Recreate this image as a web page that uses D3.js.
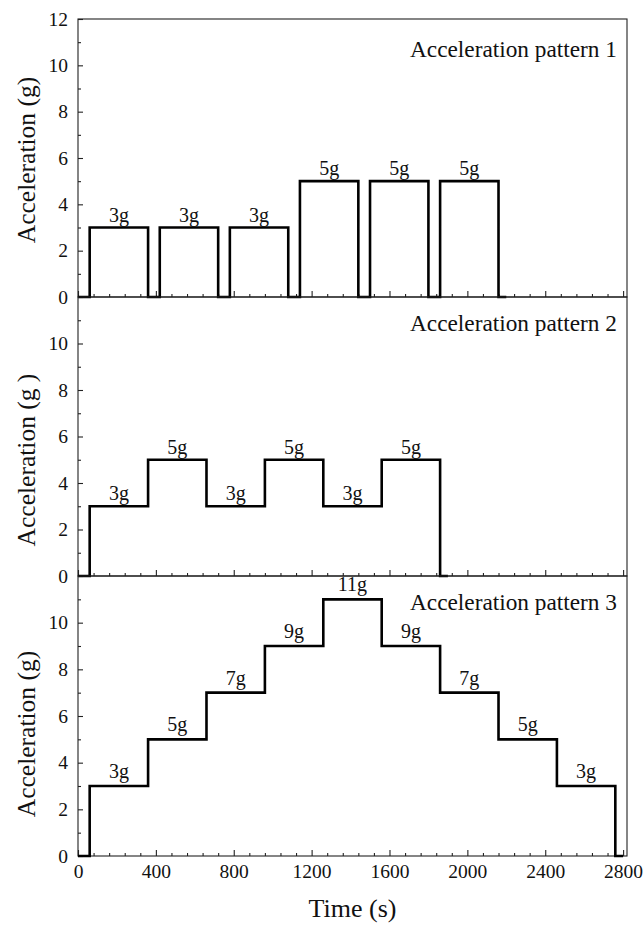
<!DOCTYPE html>
<html>
<head>
<meta charset="utf-8">
<script src="https://cdn.jsdelivr.net/npm/d3@7"></script>
<style>
  html, body { margin: 0; padding: 0; background: #fff; }
  svg { display: block; }
  svg text { font-family: "Liberation Serif", "Times New Roman", Times, "DejaVu Serif", serif !important; fill: #111; }
</style>
</head>
<body>
<svg id="chart" width="644" height="926"></svg>
<script>
// ---- data ----
const titles = ["Acceleration pattern 1", "Acceleration pattern 2", "Acceleration pattern 3"];
const yTitles = ["Acceleration (g)", "Acceleration (g )", "Acceleration (g)"];

const times1  = [0, 60, 360, 420, 720, 780, 1080, 1140, 1440, 1500, 1800, 1860, 2160, 2200];
const values1 = [0, 3,  0,   3,   0,   3,   0,    5,    0,    5,    0,    5,    0,    0];

const times2  = [0, 60, 360, 660, 960, 1260, 1560, 1860, 1900];
const values2 = [0, 3,  5,   3,   5,   3,    5,    0,    0];

const times3  = [0, 60, 360, 660, 960, 1260, 1560, 1860, 2160, 2460, 2760, 2800];
const values3 = [0, 3,  5,   7,   9,   11,   9,    7,    5,    3,    0,    0];

const xTickValues = [0, 400, 800, 1200, 1600, 2000, 2400, 2800];
const yTickLabelsTop = [0, 2, 4, 6, 8, 10, 12];
const yTickLabelsOther = [0, 2, 4, 6, 8, 10];

// ---- layout ----
const FONT = '"Liberation Serif", "Times New Roman", Times, "DejaVu Serif", serif';
const svg = d3.select("#chart");
const left = 78, right = 627;
const panelTops = [19, 297, 576];
const panelBottoms = [297, 576, 856];
const yTitleCenters = [160, 460, 734];
const titleBaselines = [57, 331, 610];
const labelOffsets = [6, 6, 8];

const x = d3.scaleLinear().domain([0, 2820]).range([left, right]);

const series = [
  {t: times1, v: values1},
  {t: times2, v: values2},
  {t: times3, v: values3}
];

series.forEach((s, i) => {
  const y = d3.scaleLinear().domain([0, 12]).range([panelBottoms[i], panelTops[i]]);
  const g = svg.append("g").attr("font-family", FONT);

  // frame
  g.append("rect")
    .attr("x", left).attr("y", panelTops[i])
    .attr("width", right - left).attr("height", panelBottoms[i] - panelTops[i])
    .attr("fill", "none").attr("stroke", "#222").attr("stroke-width", 1.1);

  // x ticks (inward, at bottom)
  const xMinor = d3.range(0, 2821, 80).filter(v => v % 400 !== 0);
  const xAx = d3.axisBottom(x).tickValues(xTickValues).tickSize(-6).tickPadding(8)
    .tickFormat(i === 2 ? d3.format("d") : () => "");
  const xg = g.append("g").attr("transform", `translate(0,${panelBottoms[i]})`).call(xAx);
  xg.attr("font-family", FONT).attr("font-size", 19.5);
  xg.select(".domain").remove();
  xg.selectAll("line").attr("stroke", "#222").attr("stroke-width", 1.1);
  xg.selectAll("text").attr("fill", "#111");
  const xm = g.append("g").attr("transform", `translate(0,${panelBottoms[i]})`)
    .call(d3.axisBottom(x).tickValues(xMinor).tickSize(-3).tickFormat(() => ""));
  xm.select(".domain").remove();
  xm.selectAll("line").attr("stroke", "#222").attr("stroke-width", 1.1);

  // y ticks (inward, at left)
  const yLabels = i === 0 ? yTickLabelsTop : yTickLabelsOther;
  const yAx = d3.axisLeft(y).tickValues(yLabels).tickSize(-5).tickPadding(10).tickFormat(d3.format("d"));
  const yg = g.append("g").attr("transform", `translate(${left},0)`).call(yAx);
  yg.attr("font-family", FONT).attr("font-size", 19.5);
  yg.select(".domain").remove();
  yg.selectAll("line").attr("stroke", "#222").attr("stroke-width", 1.1);
  yg.selectAll("text").attr("fill", "#111");
  const ym = g.append("g").attr("transform", `translate(${left},0)`)
    .call(d3.axisLeft(y).tickValues([1, 3, 5, 7, 9, 11]).tickSize(-3).tickFormat(() => ""));
  ym.select(".domain").remove();
  ym.selectAll("line").attr("stroke", "#222").attr("stroke-width", 1.1);

  // step line
  const pts = s.t.map((t, k) => [t, s.v[k]]);
  const line = d3.line().x(d => x(d[0])).y(d => y(d[1])).curve(d3.curveStepAfter);
  g.append("path").datum(pts)
    .attr("d", line)
    .attr("fill", "none").attr("stroke", "#000").attr("stroke-width", 2.6)
    .attr("stroke-linejoin", "miter");

  // step labels
  const segs = [];
  for (let k = 0; k < s.t.length - 1; k++) {
    if (s.v[k] > 0) segs.push({mid: (s.t[k] + s.t[k + 1]) / 2, v: s.v[k]});
  }
  g.selectAll("text.step").data(segs).enter().append("text")
    .attr("class", "step")
    .attr("x", d => x(d.mid))
    .attr("y", d => y(d.v) - labelOffsets[i])
    .attr("text-anchor", "middle")
    .attr("font-size", 20)
    .text(d => d.v + "g");

  // panel title
  g.append("text")
    .attr("x", right - 10).attr("y", titleBaselines[i])
    .attr("text-anchor", "end")
    .attr("font-size", 23.3)
    .text(titles[i]);

  // y title
  g.append("text")
    .attr("transform", `translate(35,${yTitleCenters[i]}) rotate(-90)`)
    .attr("text-anchor", "middle")
    .attr("font-size", 25.5)
    .text(yTitles[i]);
});

// x title
svg.append("text")
  .attr("x", (left + right) / 2).attr("y", 917)
  .attr("text-anchor", "middle")
  .attr("font-family", FONT)
  .attr("font-size", 26)
  .text("Time (s)");
</script>
</body>
</html>
